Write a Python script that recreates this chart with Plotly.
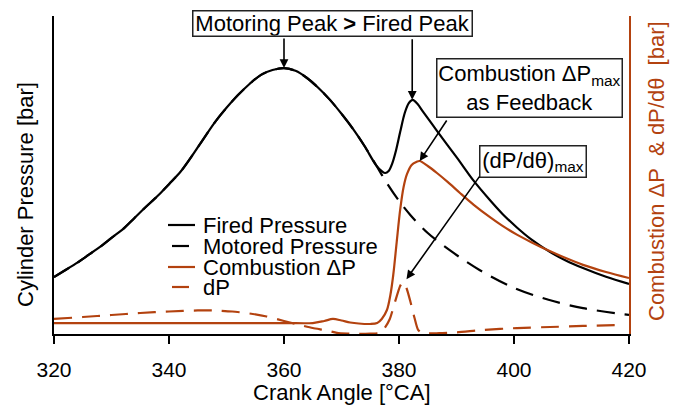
import plotly.graph_objects as go

# ---- data -------------------------------------------------------------
# Fired cylinder pressure [bar] vs crank angle [deg CA]
ca_fired = [320, 322, 324, 326, 328, 330, 332, 334, 336, 338, 340, 342, 344, 346,
            348, 350, 352, 354, 356, 358, 360, 362, 364, 366, 368, 370, 372, 374,
            376, 377, 377.6, 378.2, 378.8, 379.5, 380.2, 381, 381.7, 382.4, 383.2,
            384.2, 386.6, 390.1, 392.9, 395.8, 398, 400.5, 403, 406.3, 409, 412, 416, 420]
p_fired = [14.3, 16.1, 17.9, 19.9, 21.9, 24.2, 26.4, 29.2, 32.0, 34.7, 37.7, 40.8,
           44.8, 49.1, 53.3, 56.9, 60.1, 62.9, 65.2, 66.4, 66.9, 66.2, 64.4, 61.9,
           58.9, 55.4, 51.6, 47.3, 42.5, 41.0, 40.5, 41.0, 42.8, 46.3, 50.8, 55.6,
           58.1, 58.9, 57.9, 55.9, 51.1, 44.3, 38.7, 33.7, 30.2, 26.8, 23.8, 20.6,
           18.5, 16.6, 14.4, 12.6]

# Motored (no combustion) cylinder pressure [bar]
ca_motored = [320, 322, 324, 326, 328, 330, 332, 334, 336, 338, 340, 342, 344, 346,
              348, 350, 352, 354, 356, 358, 360, 362, 364, 366, 368, 370, 372, 374,
              376, 378, 380, 382, 385, 389, 394, 400, 406, 412, 420]
p_motored = [14.3, 16.1, 17.9, 19.9, 21.9, 24.2, 26.4, 29.2, 32.0, 34.7, 37.7, 40.8,
             44.8, 49.1, 53.3, 56.9, 60.1, 62.9, 65.2, 66.4, 66.9, 66.2, 64.4, 61.9,
             58.9, 55.4, 51.6, 47.3, 42.5, 37.7, 33.5, 29.9, 25.4, 20.9, 16.1, 11.6,
             8.6, 6.5, 4.8]

# Combustion pressure rise (fired - motored) [bar]
ca_dp_comb = [320, 340, 360, 365, 367, 368.5, 370, 371.5, 373, 375, 376.2, 377, 377.9,
              378.5, 379, 379.6, 380.2, 380.8, 381.4, 382.2, 383, 383.6, 385, 386.6,
              388.5, 390.6, 393, 396, 398, 400.5, 403, 406.3, 409, 412, 416, 420]
dp_comb = [1.38, 1.38, 1.38, 1.38, 1.64, 1.89, 1.70, 1.45, 1.32, 1.26, 1.38, 1.89,
           3.02, 4.91, 7.42, 11.57, 15.60, 18.49, 20.13, 21.26, 21.64, 21.76, 21.13,
           20.25, 19.1, 17.74, 16.25, 14.6, 13.6, 12.5, 11.55, 10.4, 9.55, 8.7, 7.8, 7.04]

# Per-step pressure change dP [bar]
ca_dp = [320, 325, 330, 335, 340, 345, 348, 351, 354, 357, 360, 362.8, 365, 367.5,
         369.2, 371, 373, 375, 376.7, 377.5, 378.4, 379.3, 380.2, 380.7, 381.3, 382,
         382.7, 383.3, 384, 387, 390, 394.6, 400.5, 406.3, 412, 418]
dp_step = [1.89, 2.14, 2.39, 2.64, 2.83, 2.96, 2.96, 2.83, 2.58, 2.20, 1.64, 1.13,
           0.75, 0.44, 0.15, 0.05, 0.02, 0.05, 0.15, 0.75, 1.89, 4.03, 6.04, 6.54,
           5.79, 4.03, 2.01, 0.55, 0.12, 0.10, 0.20, 0.50, 0.75, 0.88, 1.01, 1.13]

x_ticks = [320, 340, 360, 380, 400, 420]

# ---- styling ----------------------------------------------------------
BLACK = "#000000"
RUST = "#B3420F"
FONT = "Liberation Sans, Arial, Helvetica, sans-serif"
DASH = "18px,10px"
SMOOTH = 0.9

W, H = 674, 406
L, R, T, B = 54, 45, 16, 72
PW, PH = W - L - R, H - T - B


def px(x):
    return (x - L) / PW


def py(y):
    return (H - B - y) / PH


fig = go.Figure()
fig.add_trace(go.Scatter(x=ca_motored, y=p_motored, mode="lines", name="Motored Pressure",
                         line=dict(color=BLACK, width=2.2, dash=DASH, shape="spline", smoothing=SMOOTH)))
fig.add_trace(go.Scatter(x=ca_dp, y=dp_step, mode="lines", name="dP", yaxis="y2",
                         line=dict(color=RUST, width=2.2, dash=DASH, shape="spline", smoothing=0.6)))
fig.add_trace(go.Scatter(x=ca_dp_comb, y=dp_comb, mode="lines", name="Combustion ΔP", yaxis="y2",
                         line=dict(color=RUST, width=2.2, shape="spline", smoothing=SMOOTH)))
fig.add_trace(go.Scatter(x=ca_fired, y=p_fired, mode="lines", name="Fired Pressure",
                         line=dict(color=BLACK, width=2.2, shape="spline", smoothing=SMOOTH)))

annotations = []
shapes = []

# hand-built legend
legend_rows = [
    ("Fired Pressure", BLACK, False, 225),
    ("Motored Pressure", BLACK, True, 246),
    ("Combustion ΔP", RUST, False, 267),
    ("dP", RUST, True, 287),
]
for label, color, dashed, ypx in legend_rows:
    x0, x1 = (172, 189) if dashed else (168, 195)
    shapes.append(dict(type="line", xref="paper", yref="paper",
                       x0=px(x0), x1=px(x1), y0=py(ypx), y1=py(ypx),
                       line=dict(color=color, width=2.2)))
    annotations.append(dict(text=label, xref="paper", yref="paper", x=px(201), y=py(ypx),
                            xanchor="left", yanchor="middle", showarrow=False, height=20,
                            font=dict(size=22, color=BLACK, family=FONT)))

# axis titles
annotations.append(dict(text="Crank Angle [°CA]", xref="paper", yref="paper",
                        x=px(341.5), y=py(392), xanchor="center", yanchor="middle",
                        showarrow=False, font=dict(size=22, color=BLACK, family=FONT)))
annotations.append(dict(text="Cylinder Pressure [bar]", xref="paper", yref="paper",
                        x=px(25), y=py(195), xanchor="center", yanchor="middle", textangle=-90,
                        showarrow=False, font=dict(size=22, color=BLACK, family=FONT)))
annotations.append(dict(text="Combustion ΔP&nbsp; &amp; dP/dθ&nbsp; [bar]", xref="paper", yref="paper",
                        x=px(656), y=py(171), xanchor="center", yanchor="middle", textangle=-90,
                        showarrow=False, font=dict(size=22, color=RUST, family=FONT)))

# callout boxes
box_style = dict(xref="paper", yref="paper", showarrow=False, bgcolor="white",
                 bordercolor="#222222", borderwidth=1.5, borderpad=0,
                 xanchor="center", yanchor="middle", valign="middle")
annotations.append(dict(text="Motoring Peak <b>&gt;</b> Fired Peak", x=px(332.5), y=py(23.5),
                        width=278, height=24, font=dict(size=22, color=BLACK, family=FONT),
                        **box_style))
annotations.append(dict(text="Combustion ΔP<sub>max</sub><br>as Feedback", x=px(529.5), y=py(88),
                        width=184, height=57, font=dict(size=22, color=BLACK, family=FONT),
                        **box_style))
annotations.append(dict(text="(dP/dθ)<sub>max</sub>", x=px(533), y=py(161.5),
                        width=105, height=30, font=dict(size=22, color=BLACK, family=FONT),
                        **box_style))

# callout arrows
arrow_style = dict(text="", showarrow=True, arrowhead=2, arrowsize=1.1, arrowwidth=1.6,
                   arrowcolor=BLACK, axref="pixel", ayref="pixel", standoff=0)
annotations.append(dict(x=360, y=66.9, xref="x", yref="y", ax=0, ay=-31, **arrow_style))
annotations.append(dict(x=382.3, y=58.9, xref="x", yref="y", ax=0, ay=-62, **arrow_style))
annotations.append(dict(x=383.6, y=21.76, xref="x", yref="y2", ax=28, ay=-42, **arrow_style))
annotations.append(dict(x=381.3, y=6.9, xref="x", yref="y2", ax=74, ay=-104, **arrow_style))

fig.update_layout(
    width=W, height=H,
    margin=dict(l=L, r=R, t=T, b=B),
    paper_bgcolor="white", plot_bgcolor="white",
    showlegend=False,
    font=dict(family=FONT, color=BLACK),
    xaxis=dict(range=[320, 420], tickvals=x_ticks, ticks="outside", ticklen=8, tickwidth=2,
               tickcolor=BLACK, showline=True, linewidth=2, linecolor=BLACK, ticklabelstandoff=8,
               showgrid=False, zeroline=False, tickfont=dict(size=21, color=BLACK, family=FONT)),
    yaxis=dict(range=[0, 80], showticklabels=False, ticks="", showline=True, linewidth=2,
               linecolor=BLACK, showgrid=False, zeroline=False),
    yaxis2=dict(range=[0, 40], overlaying="y", side="right", showticklabels=False, ticks="",
                showline=True, linewidth=2, linecolor=RUST, showgrid=False, zeroline=False),
    annotations=annotations,
    shapes=shapes,
)

fig.write_html("out.html")
